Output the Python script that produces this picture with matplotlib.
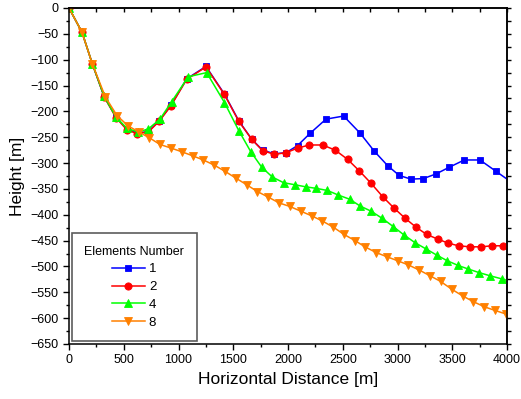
import matplotlib
matplotlib.use("Agg")
import matplotlib.pyplot as plt
from matplotlib.ticker import MultipleLocator

plt.rcParams['font.family'] = ['Liberation Sans', 'DejaVu Sans']

# Series: Elements Number = 1
x1 = [0, 119, 213, 322, 429, 530, 624, 724, 824, 932, 1075, 1251, 1418, 1550, 1669, 1768, 1875,
      1982, 2088, 2204, 2347, 2508, 2658, 2788, 2910, 3016, 3123, 3236, 3352, 3473, 3610, 3753,
      3900, 4000]
y1 = [0, -47, -108, -172, -211, -235, -242, -239, -218, -188, -137, -113, -166, -218, -254, -275,
      -282, -280, -266, -242, -215, -209, -242, -277, -305, -324, -331, -330, -321, -308, -294,
      -294, -316, -331]

# Series: Elements Number = 2
x2 = [0, 119, 213, 322, 429, 530, 624, 724, 824, 932, 1075, 1251, 1418, 1550, 1669, 1768, 1875,
      1982, 2088, 2195, 2316, 2432, 2545, 2651, 2758, 2865, 2968, 3071, 3169, 3266, 3367, 3464,
      3558, 3662, 3763, 3863, 3966, 4000]
y2 = [0, -47, -108, -172, -212, -236, -243, -240, -219, -189, -138, -114, -167, -219, -254, -276,
      -283, -280, -271, -265, -265, -275, -293, -315, -339, -365, -387, -407, -424, -438, -447,
      -455, -460, -462, -462, -460, -460, -459]

# Series: Elements Number = 4
x4 = [0, 119, 213, 322, 429, 530, 633, 724, 831, 938, 1089, 1257, 1420, 1550, 1660, 1760, 1857,
      1960, 2064, 2164, 2260, 2360, 2461, 2564, 2658, 2758, 2861, 2962, 3059, 3160, 3260, 3358,
      3455, 3553, 3647, 3747, 3845, 3952, 4000]
y4 = [0, -47, -108, -171, -211, -233, -240, -234, -215, -181, -133, -125, -183, -237, -278, -308,
      -327, -338, -342, -346, -349, -353, -362, -370, -383, -393, -407, -423, -439, -454, -466,
      -478, -489, -498, -505, -512, -518, -524, -527]

# Series: Elements Number = 8
x8 = [0, 119, 213, 332, 438, 539, 639, 733, 831, 932, 1029, 1130, 1227, 1327, 1425, 1523, 1623,
      1720, 1821, 1918, 2018, 2116, 2216, 2313, 2414, 2511, 2612, 2703, 2804, 2901, 3002, 3099,
      3199, 3297, 3394, 3495, 3595, 3692, 3793, 3890, 3990]
y8 = [0, -47, -108, -172, -208, -228, -240, -251, -264, -271, -278, -286, -294, -304, -316, -329,
      -342, -355, -366, -377, -384, -393, -402, -412, -424, -438, -450, -462, -473, -481, -489,
      -497, -507, -518, -529, -544, -557, -568, -578, -585, -592]

labels = ['1', '2', '4', '8']
colors = ['#0000FF', '#FF0000', '#00FF00', '#FF8000']
markers = ['s', 'o', '^', 'v']

fig = plt.figure(figsize=(5.21, 3.99), dpi=100)
ax = fig.add_axes([69/521, 1-344/399, (507-69)/521, (344-8)/399])

series = [(x1, y1), (x2, y2), (x4, y4), (x8, y8)]
sizes = [5, 5.2, 6, 6]
for (xs, ys), lab, c, m, ms in zip(series, labels, colors, markers, sizes):
    me = slice(0, len(xs) - 1) if xs[-1] == 4000 else None
    ax.plot(xs, ys, color=c, marker=m, markersize=ms, lw=1.1, label=lab,
            markevery=me, markeredgewidth=0.6, markeredgecolor=c)

ax.set_xlim(0, 4000)
ax.set_ylim(-650, 0)
ax.xaxis.set_major_locator(MultipleLocator(500))
ax.xaxis.set_minor_locator(MultipleLocator(250))
ax.yaxis.set_major_locator(MultipleLocator(50))
ax.yaxis.set_minor_locator(MultipleLocator(25))
ax.tick_params(which='both', direction='out', labelsize=9, width=1, top=False, right=False)
ax.tick_params(which='major', length=4)
ax.tick_params(which='minor', length=2.5)
for s in ax.spines.values():
    s.set_linewidth(1.1)

sx = ax.secondary_xaxis('top')
sx.xaxis.set_major_locator(MultipleLocator(250))
sx.tick_params(direction='in', length=3, width=1, labeltop=False)
sx.spines['top'].set_linewidth(1.1)
sy = ax.secondary_yaxis('right')
sy.yaxis.set_major_locator(MultipleLocator(25))
sy.tick_params(direction='out', length=3, width=1, labelright=False)
sy.spines['right'].set_linewidth(1.1)

ax.set_xlabel('Horizontal Distance [m]', fontsize=12.5, labelpad=4)
ax.set_ylabel('Height [m]', fontsize=12.5, labelpad=4)

leg = ax.legend(title='Elements Number', loc='lower left', bbox_to_anchor=(0.0, 0.0),
                borderaxespad=0.2,
                fontsize=9.5, title_fontsize=9, frameon=True, fancybox=False,
                edgecolor='#333333', handlelength=2.5, borderpad=0.95, labelspacing=0.42,
                handletextpad=0.3)
leg.get_frame().set_linewidth(1.2)
leg._legend_box.align = "center"

fig.savefig('out.png', dpi=100)
